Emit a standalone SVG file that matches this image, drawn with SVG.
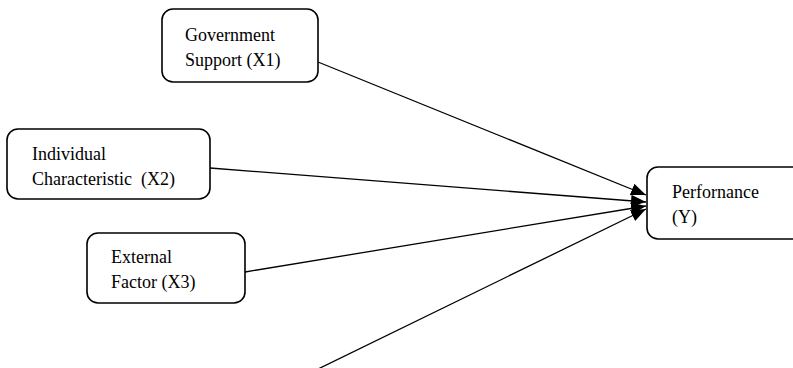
<svg xmlns="http://www.w3.org/2000/svg" width="793" height="368" viewBox="0 0 793 368">
<style>
.box{fill:#fff;stroke:#000;stroke-width:1.6}
.t{font-family:"Liberation Serif",serif;font-size:18px;fill:#000}
.ln{stroke:#000;stroke-width:1.3;fill:none;marker-end:url(#ah)}
</style>
<defs>
<marker id="ah" markerUnits="userSpaceOnUse" markerWidth="16" markerHeight="12" refX="15" refY="6" orient="auto">
<path d="M0,0 L15,6 L0,12 z" fill="#000"/>
</marker>
</defs>
<rect width="793" height="368" fill="#fff"/>
<g id="connectors">
<line class="ln" x1="318" y1="62" x2="646" y2="195"/>
<line class="ln" x1="210" y1="168" x2="646" y2="202"/>
<line class="ln" x1="245" y1="272" x2="646" y2="206"/>
<line class="ln" x1="316" y1="370" x2="646" y2="209"/>
</g>
<g id="x1">
<rect class="box" x="162" y="9" width="156" height="73" rx="11"/>
<text class="t" x="185" y="41">Government</text>
<text class="t" x="185" y="66">Support (X1)</text>
</g>
<g id="x2">
<rect class="box" x="7" y="129" width="203" height="70" rx="11"/>
<text class="t" x="32" y="160">Individual</text>
<text class="t" x="32" y="185" xml:space="preserve">Characteristic  (X2)</text>
</g>
<g id="x3">
<rect class="box" x="87" y="233" width="158" height="70" rx="11"/>
<text class="t" x="111" y="263">External</text>
<text class="t" x="111" y="288">Factor (X3)</text>
</g>
<g id="y">
<rect class="box" x="647" y="167" width="170" height="72" rx="11"/>
<text class="t" x="672" y="198">Perfornance</text>
<text class="t" x="672" y="223">(Y)</text>
</g>
</svg>
